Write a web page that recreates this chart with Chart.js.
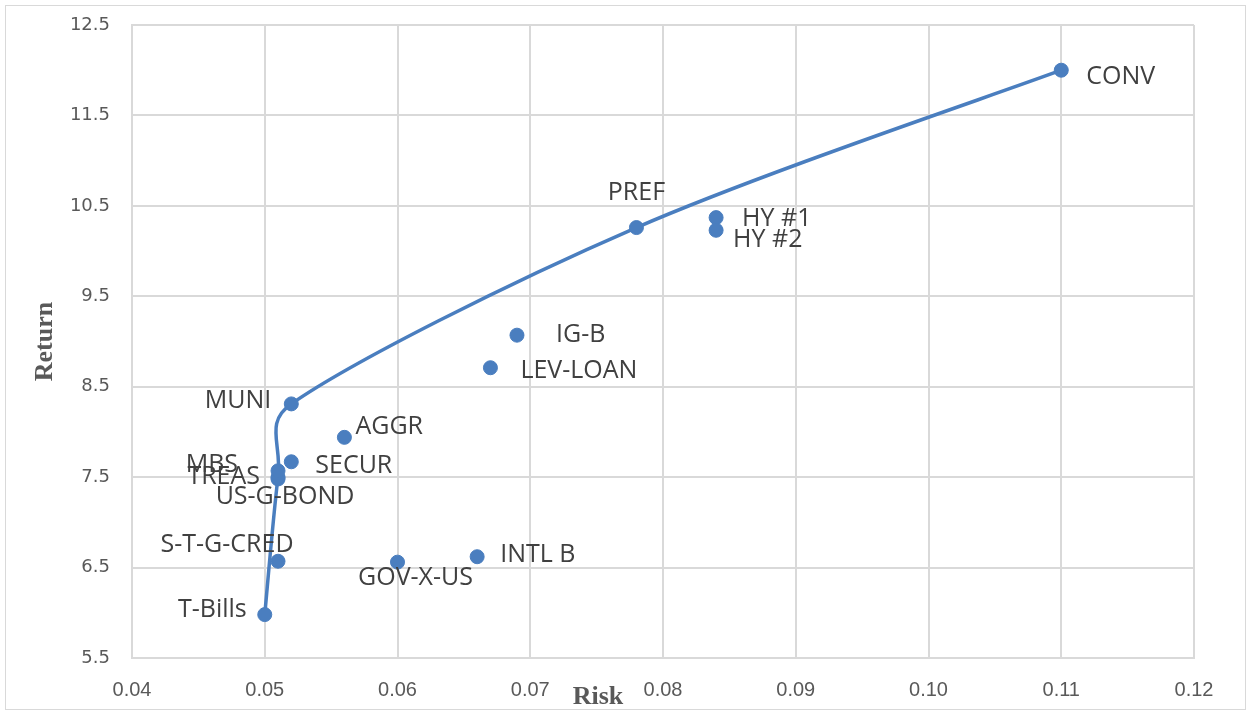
<!DOCTYPE html>
<html>
<head>
<meta charset="utf-8">
<script src="https://cdn.jsdelivr.net/npm/chart.js@4.4.1/dist/chart.umd.min.js"></script>
<style>
  html, body { margin: 0; padding: 0; background: #fff; }
  #wrap { width: 1251px; height: 715px; position: relative; }
</style>
</head>
<body>
<div id="wrap"><canvas id="riskChart"></canvas></div>
<script>
// asset classes: risk vs return
const assetNames = ["T-Bills", "S-T-G-CRED", "GOV-X-US", "INTL B", "US-G-BOND", "TREAS", "MBS", "SECUR",
  "MUNI", "AGGR", "LEV-LOAN", "IG-B", "PREF", "HY #1", "HY #2", "CONV"];
const assetRisk = [0.050, 0.051, 0.060, 0.066, 0.051, 0.051, 0.051, 0.052,
  0.052, 0.056, 0.067, 0.069, 0.078, 0.084, 0.084, 0.110];
const assetReturn = [5.98, 6.57, 6.56, 6.62, 7.48, 7.50, 7.57, 7.67,
  8.31, 7.94, 8.71, 9.07, 10.26, 10.37, 10.23, 12.00];

// efficient frontier line
const frontierRisk = [0.050, 0.051, 0.052, 0.078, 0.110];
const frontierReturn = [5.98, 7.50, 8.31, 10.26, 12.00];

const riskTicks = [0.04, 0.05, 0.06, 0.07, 0.08, 0.09, 0.10, 0.11, 0.12];
const returnTicks = [5.5, 6.5, 7.5, 8.5, 9.5, 10.5, 11.5, 12.5];

const blue = "#4A7EBF";
const grid = "#d9d9d9";

// where each label sits relative to its point
const labelPlace = {
  "T-Bills":    { dx: -18, dy: -5, align: "right" },
  "S-T-G-CRED": { dx: -51, dy: -16, align: "center" },
  "GOV-X-US":   { dx: 18, dy: 16, align: "center" },
  "INTL B":     { dx: 23, dy: -2, align: "left" },
  "US-G-BOND":  { dx: 7, dy: 18, align: "center" },
  "TREAS":      { dx: -18, dy: 0, align: "right" },
  "MBS":        { dx: -40, dy: -6, align: "right" },
  "SECUR":      { dx: 24, dy: 4, align: "left" },
  "MUNI":       { dx: -20, dy: -3, align: "right" },
  "AGGR":       { dx: 11, dy: -10, align: "left" },
  "LEV-LOAN":   { dx: 30, dy: 3, align: "left" },
  "IG-B":       { dx: 39, dy: 0, align: "left" },
  "PREF":       { dx: 0, dy: -35, align: "center" },
  "HY #1":      { dx: 26, dy: 1, align: "left" },
  "HY #2":      { dx: 17, dy: 10, align: "left" },
  "CONV":       { dx: 25, dy: 7, align: "left" },
};

const pointLabels = {
  id: "pointLabels",
  afterDatasetsDraw(chart) {
    const ctx = chart.ctx;
    const meta = chart.getDatasetMeta(1);
    ctx.save();
    ctx.font = "25px 'Open Sans'";
    ctx.fillStyle = "#404040";
    ctx.textBaseline = "middle";
    meta.data.forEach((pt, i) => {
      const name = assetNames[i];
      const p = labelPlace[name] || { dx: 12, dy: 0, align: "left" };
      ctx.textAlign = p.align;
      ctx.fillText(name, pt.x + p.dx, pt.y + p.dy);
    });
    ctx.restore();
  },
};

// Excel's smoothed line uses shorter handles than Chart.js tension,
// so recompute the bezier control points catmull-rom style (capped)
const excelSmooth = {
  id: "excelSmooth",
  afterDatasetsUpdate(chart) {
    const meta = chart.getDatasetMeta(0);
    const pts = meta.data;
    const n = pts.length;
    pts.forEach((p, i) => {
      const prev = pts[Math.max(i - 1, 0)];
      const next = pts[Math.min(i + 1, n - 1)];
      const tx = (next.x - prev.x) / 6;
      const ty = (next.y - prev.y) / 6;
      const tl = Math.hypot(tx, ty) || 1;
      const inLen = Math.hypot(p.x - prev.x, p.y - prev.y);
      const outLen = Math.hypot(next.x - p.x, next.y - p.y);
      const a = Math.min(tl, 0.45 * inLen) / tl;
      const b = Math.min(tl, 0.45 * outLen) / tl;
      p.cp1x = p.x - tx * a;
      p.cp1y = p.y - ty * a;
      p.cp2x = p.x + tx * b;
      p.cp2y = p.y + ty * b;
    });
    meta.dataset._pointsUpdated = true;
  },
};

// frame and the two axis titles (Excel puts "Risk" off-centre)
const frameAndTitles = {
  id: "frameAndTitles",
  beforeDraw(chart) {
    const ctx = chart.ctx;
    ctx.save();
    ctx.fillStyle = "#fff";
    ctx.fillRect(0, 0, chart.width, chart.height);
    ctx.strokeStyle = grid;
    ctx.lineWidth = 1;
    ctx.strokeRect(5.5, 5.5, chart.width - 11, chart.height - 11);
    ctx.restore();
  },
  afterDraw(chart) {
    const ctx = chart.ctx;
    const area = chart.chartArea;
    ctx.save();
    ctx.fillStyle = "#595959";
    ctx.font = "bold 26px 'Liberation Serif'";
    ctx.textAlign = "center";
    ctx.textBaseline = "middle";
    ctx.fillText("Risk", 598, 697);
    ctx.translate(45, (area.top + area.bottom) / 2);
    ctx.rotate(-Math.PI / 2);
    ctx.fillText("Return", 0, 0);
    ctx.restore();
  },
};

new Chart(document.getElementById("riskChart"), {
  type: "scatter",
  data: {
    datasets: [
      {
        type: "line",
        label: "Frontier",
        data: frontierRisk.map((x, i) => ({ x: x, y: frontierReturn[i] })),
        borderColor: blue,
        borderWidth: 3.5,
        pointRadius: 0,
        fill: false,
        tension: 0.4,
        order: 2,
      },
      {
        label: "Assets",
        data: assetRisk.map((x, i) => ({ x: x, y: assetReturn[i] })),
        backgroundColor: blue,
        borderColor: blue,
        pointRadius: 7,
        order: 1,
      },
    ],
  },
  options: {
    responsive: true,
    maintainAspectRatio: false,
    animation: false,
    layout: { padding: { top: 25, right: 57, left: 0, bottom: 0 } },
    plugins: {
      legend: { display: false },
      tooltip: { enabled: false },
    },
    scales: {
      x: {
        type: "linear",
        min: 0.04,
        max: 0.12,
        afterBuildTicks(scale) {
          scale.ticks = riskTicks.map((v) => ({ value: v }));
        },
        afterFit(scale) {
          scale.height = 57;
        },
        grid: { color: grid, lineWidth: 2, drawTicks: false },
        border: { color: grid, width: 2 },
        ticks: {
          padding: 20,
          color: "#595959",
          font: { family: "'Liberation Sans Narrow', 'Liberation Sans'", size: 20 },
          callback: (v) => v.toFixed(2),
        },
      },
      y: {
        type: "linear",
        min: 5.5,
        max: 12.5,
        afterBuildTicks(scale) {
          scale.ticks = returnTicks.map((v) => ({ value: v }));
        },
        afterFit(scale) {
          scale.width = 132;
          scale.paddingTop = 0;
          scale.paddingBottom = 0;
        },
        grid: { color: grid, lineWidth: 2, drawTicks: false },
        border: { color: grid, width: 2 },
        ticks: {
          padding: 22,
          color: "#595959",
          font: { family: "'DejaVu Sans'", size: 18 },
          callback: (v) => v.toFixed(1),
        },
      },
    },
  },
  plugins: [frameAndTitles, excelSmooth, pointLabels],
});
</script>
</body>
</html>
